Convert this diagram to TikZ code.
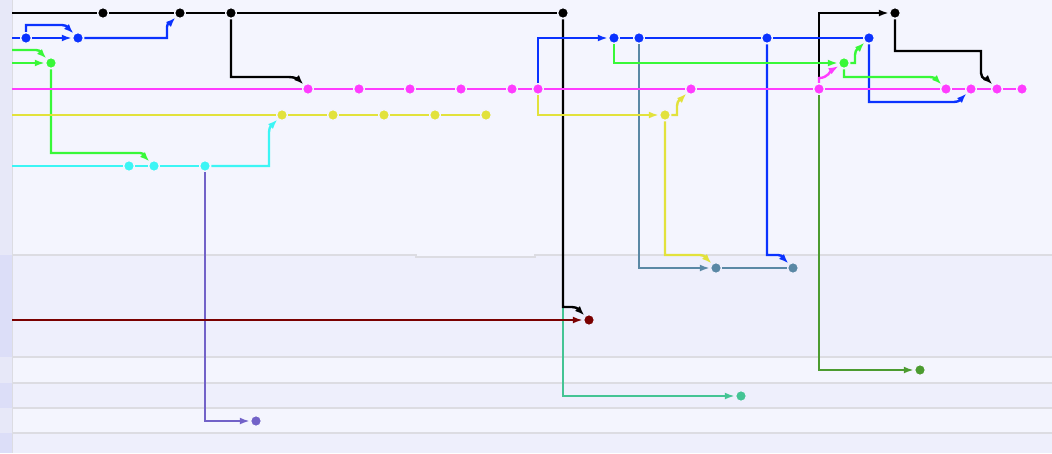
\documentclass[tikz,border=0pt]{standalone}
\usetikzlibrary{arrows.meta}
\definecolor{bgA}{HTML}{F4F5FE}
\definecolor{bgB}{HTML}{EEEFFC}
\definecolor{stA}{HTML}{E7E8F8}
\definecolor{stB}{HTML}{DCDEF8}
\definecolor{sepc}{HTML}{DCDCE2}
\definecolor{cBlue}{HTML}{0A32FF}
\definecolor{cGreen}{HTML}{38F838}
\definecolor{cMag}{HTML}{FF3CFF}
\definecolor{cYel}{HTML}{E2E23C}
\definecolor{cCyan}{HTML}{3CF5F5}
\definecolor{cSteel}{HTML}{5A88A5}
\definecolor{cRed}{HTML}{7A0000}
\definecolor{cDkGreen}{HTML}{4C9B30}
\definecolor{cTeal}{HTML}{44C494}
\definecolor{cPurple}{HTML}{7262C8}
\tikzset{
  dot/.style={circle, fill=#1, draw=bgA, line width=1.5pt, minimum size=11pt, inner sep=0pt},
  dotb/.style={dot=#1, draw=bgB},
  ln/.style={draw=#1, line width=2.4pt},
  arr/.style={ln=#1, -{Latex[length=10pt,width=7pt]}},
  sepline/.style={draw=sepc, line width=1.5pt},
}
\begin{document}
\begin{tikzpicture}[x=1pt,y=-1pt]
\useasboundingbox (0,0) rectangle (1052,453);
% background bands
\fill[bgA] (0,0) rectangle (1052,453);
\fill[bgB] (0,255) -- (416,255) -- (416,257) -- (535,257) -- (535,255) -- (1052,255) -- (1052,357) -- (0,357) -- cycle;
\fill[bgB] (0,383) rectangle (1052,408);
\fill[bgB] (0,433) rectangle (1052,453);
\fill[stA] (0,0) rectangle (12,453);
\fill[stB] (0,255) rectangle (12,357);
\fill[stB] (0,383) rectangle (12,408);
\fill[stB] (0,433) rectangle (12,453);
\draw[draw=sepc, line width=0.8pt] (12,0) -- (12,453);
\draw[sepline] (12,255) -- (416,255) -- (416,257) -- (535,257) -- (535,255) -- (1052,255);
\draw[sepline] (12,357) -- (1052,357);
\draw[sepline] (12,383) -- (1052,383);
\draw[sepline] (12,408) -- (1052,408);
\draw[sepline] (12,433) -- (1052,433);

% nodes
\node[dot=black] (k1) at (103,13) {};
\node[dot=black] (k2) at (180,13) {};
\node[dot=black] (k3) at (231,13) {};
\node[dot=black] (k4) at (563,13) {};
\node[dot=black] (k5) at (895,13) {};

\node[dot=cBlue] (b1) at (26,38) {};
\node[dot=cBlue] (b2) at (78,38) {};
\node[dot=cBlue] (b3) at (614,38) {};
\node[dot=cBlue] (b4) at (639,38) {};
\node[dot=cBlue] (b5) at (767,38) {};
\node[dot=cBlue] (b6) at (869,38) {};

\node[dot=cGreen] (g1) at (51,63) {};
\node[dot=cGreen] (g2) at (844,63) {};

\node[dot=cMag] (m1) at (308,89) {};
\node[dot=cMag] (m2) at (359,89) {};
\node[dot=cMag] (m3) at (410,89) {};
\node[dot=cMag] (m4) at (461,89) {};
\node[dot=cMag] (m5) at (512,89) {};
\node[dot=cMag] (m6) at (538,89) {};
\node[dot=cMag] (m7) at (691,89) {};
\node[dot=cMag] (m8) at (819,89) {};
\node[dot=cMag] (m9) at (946,89) {};
\node[dot=cMag] (m10) at (971,89) {};
\node[dot=cMag] (m11) at (997,89) {};
\node[dot=cMag] (m12) at (1022,89) {};

\node[dot=cYel] (y1) at (282,115) {};
\node[dot=cYel] (y2) at (333,115) {};
\node[dot=cYel] (y3) at (384,115) {};
\node[dot=cYel] (y4) at (435,115) {};
\node[dot=cYel] (y5) at (486,115) {};
\node[dot=cYel] (y6) at (665,115) {};

\node[dot=cCyan] (c1) at (129,166) {};
\node[dot=cCyan] (c2) at (154,166) {};
\node[dot=cCyan] (c3) at (205,166) {};

\node[dotb=cSteel] (s1) at (716,268) {};
\node[dotb=cSteel] (s2) at (793,268) {};

\node[dotb=cRed] (dr) at (589,320) {};
\node[dot=cDkGreen] (dg) at (920,370) {};
\node[dotb=cTeal] (t1) at (741,396) {};
\node[dot=cPurple] (p1) at (256,421) {};

\coordinate (k4c) at (563,307);

% black
\draw[ln=black] (12,13) -- (k1) -- (k2) -- (k3) -- (k4);
\draw[arr=black] (k3.south) |- (289,77) to[out=0,in=135] (m1);
\draw[arr=cTeal] (k4c) |- (t1);
\draw[arr=black] (k4.south) -- (k4c) -- (572,307) to[out=0,in=135] (dr);
\draw[arr=black] (m8.north) -- (819,13) -- (k5);
\draw[arr=black] (k5.south) |- (981,51) -- (981,73) to[out=-90,in=135] (m11);

% blue
\draw[ln=cBlue] (12,38) -- (b1);
\draw[arr=cBlue] (b1) -- (b2);
\draw[arr=cBlue] (b1.north) |- (62,25) to[out=0,in=135] (b2);
\draw[arr=cBlue] (b2) -- (167,38) -- (167,27) to[out=90,in=225] (k2);
\draw[arr=cBlue] (m6.north) |- (b3);
\draw[ln=cBlue] (b3) -- (b4) -- (b5) -- (b6);
\draw[arr=cSteel] (b4.south) |- (s1);
\draw[ln=cSteel] (s1) -- (s2);
\draw[arr=cBlue] (b5.south) |- (778,255) to[out=0,in=135] (s2);
\draw[arr=cBlue] (b6.south) |- (954,102) to[out=0,in=225] (m10);

% green
\draw[arr=cGreen] (12,50) -- (36,50) to[out=0,in=135] (g1);
\draw[arr=cGreen] (12,63) -- (g1);
\draw[arr=cGreen] (g1.south) |- (140,153) to[out=0,in=135] (c2);
\draw[arr=cGreen] (b3.south) |- (g2);
\draw[arr=cGreen] (g2) -- (855,63) -- (855,55) to[out=90,in=225] (b6);
\draw[arr=cGreen] (g2.south) |- (930,77) to[out=0,in=135] (m9);

% magenta
\draw[ln=cMag] (12,89) -- (m1) -- (m2) -- (m3) -- (m4) -- (m5) -- (m6) -- (m7) -- (m8) -- (m9) -- (m10) -- (m11) -- (m12);
\draw[arr=cMag] (m8.north) -- (819,78) to[out=0,in=210] (g2);
\draw[arr=cDkGreen] (m8.south) |- (dg);

% yellow
\draw[ln=cYel] (12,115) -- (y1) -- (y2) -- (y3) -- (y4) -- (y5);
\draw[arr=cYel] (m6.south) |- (y6);
\draw[arr=cYel] (y6) -- (677,115) -- (677,106) to[out=90,in=225] (m7);
\draw[arr=cYel] (y6.south) |- (700,255) to[out=0,in=135] (s1);

% cyan
\draw[ln=cCyan] (12,166) -- (c1) -- (c2) -- (c3);
\draw[arr=cCyan] (c3) -- (269,166) -- (269,132) to[out=90,in=225] (y1);
\draw[arr=cPurple] (c3.south) |- (p1);

% dark red
\draw[arr=cRed] (12,320) -- (dr);
\end{tikzpicture}
\end{document}
